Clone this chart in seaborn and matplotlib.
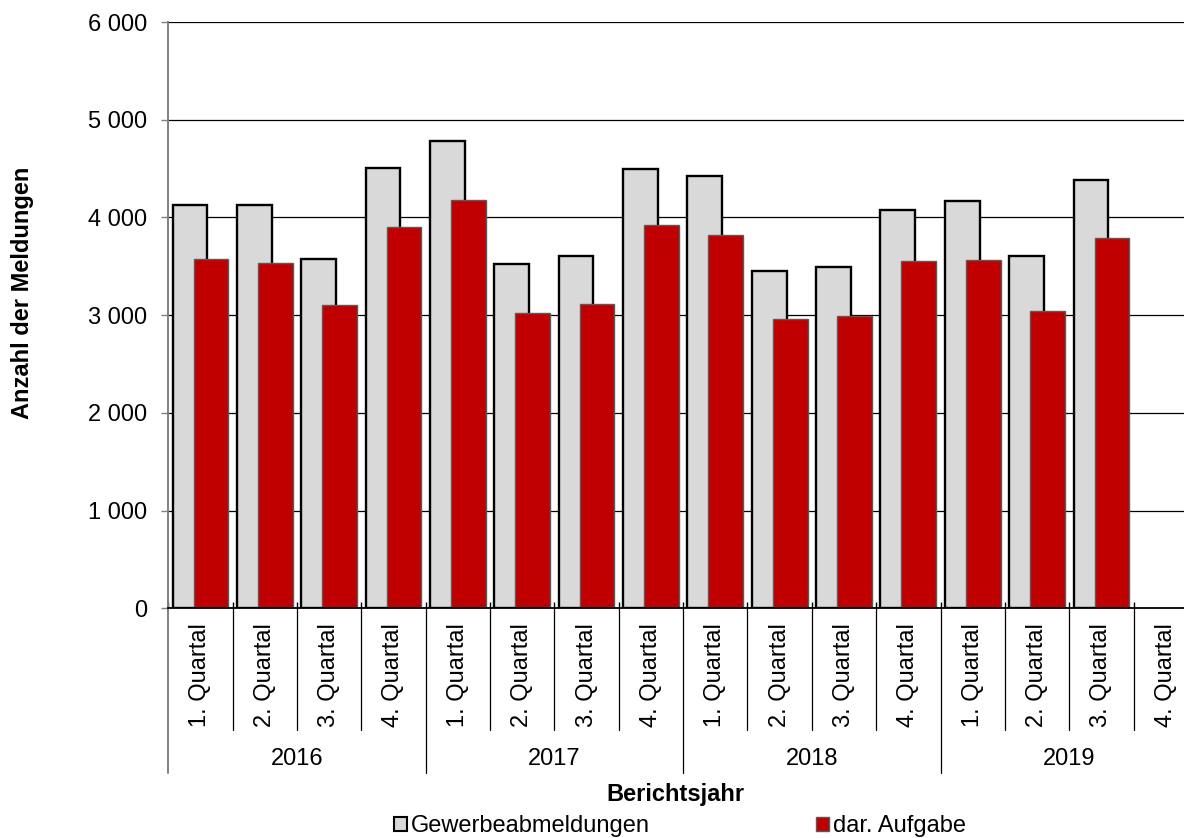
import numpy as np
import pandas as pd
import seaborn as sns
import matplotlib
matplotlib.use('Agg')
from matplotlib import pyplot as plt
from matplotlib import transforms
from matplotlib.patches import Patch
from matplotlib.ticker import FuncFormatter, MultipleLocator

sns.set_style('white')
plt.rcParams['font.family'] = ['Liberation Sans', 'DejaVu Sans']
plt.rcParams['text.color'] = 'black'
plt.rcParams['xtick.color'] = 'black'
plt.rcParams['ytick.color'] = 'black'

# data
years = ['2016', '2017', '2018', '2019']
quarters = ['1. Quartal', '2. Quartal', '3. Quartal', '4. Quartal']
abmeldungen = [4126, 4128, 3570, 4502,
               4785, 3519, 3601, 4495,
               4426, 3457, 3488, 4075,
               4167, 3604, 4382, np.nan]
aufgabe = [3573, 3529, 3102, 3904,
           4177, 3020, 3116, 3921,
           3819, 2959, 2993, 3550,
           3566, 3041, 3785, np.nan]

n = len(abmeldungen)
df = pd.DataFrame({
    'pos': np.arange(n) + 0.5,
    'Gewerbeabmeldungen': abmeldungen,
    'dar. Aufgabe': aufgabe,
})

grey = '#D9D9D9'
red = '#C00000'

fig = plt.figure(figsize=(11.84, 8.38), dpi=100)
ax = fig.add_axes([0.1421, 0.2741, 0.8697, 0.6996])

# overlapping bars: grey shifted left, red shifted right
sns.barplot(x=df['pos'] - 0.163, y=df['Gewerbeabmeldungen'], native_scale=True,
            orient='x', width=0.54, color=grey, saturation=1,
            edgecolor='black', linewidth=1.7, errorbar=None, ax=ax)
sns.barplot(x=df['pos'] + 0.163, y=df['dar. Aufgabe'], native_scale=True,
            orient='x', width=0.54, color=red, saturation=1,
            edgecolor='#5a5a5a', linewidth=1.0, errorbar=None, ax=ax)

ax.set_xlim(0, n)
ax.set_ylim(0, 6000)
ax.yaxis.set_major_locator(MultipleLocator(1000))
ax.yaxis.set_major_formatter(FuncFormatter(lambda v, p: f"{int(v):,}".replace(',', ' ')))
ax.grid(axis='y', color='black', linewidth=0.9)
ax.set_axisbelow(True)

for s in ['top', 'right']:
    ax.spines[s].set_visible(False)
ax.spines['left'].set_color('#808080')
ax.spines['left'].set_linewidth(1.4)
ax.spines['bottom'].set_color('black')
ax.spines['bottom'].set_linewidth(1.3)

ax.tick_params(axis='y', direction='out', length=5, width=1, color='#808080',
               pad=10, labelsize=17, left=True, labelcolor='black')
ax.set_xticks(np.arange(n + 1))
ax.set_xticklabels([])
ax.tick_params(axis='x', direction='in', length=4.5, width=1, color='black', bottom=True)
ax.set_xlabel('')
ax.set_ylabel('')

# category axis: quarters and years
trans = transforms.blended_transform_factory(ax.transData, ax.transAxes)
for i in range(n + 1):
    depth = -0.2808 if i % 4 == 0 else -0.2074
    col = '#808080' if i == 0 else 'black'
    ax.plot([i, i], [0, depth], transform=trans, clip_on=False,
            color=col, linewidth=1.4 if i == 0 else 0.9)
for i in range(n):
    ax.text(i + 0.5, -0.1138, quarters[i % 4], transform=trans, rotation=90,
            ha='center', va='center', fontsize=17, color='black')
for j, yr in enumerate(years):
    ax.text(j * 4 + 2, -0.2562, yr, transform=trans, ha='center', va='center',
            fontsize=17, color='black')

fig.text(0.5706, 0.0525, 'Berichtsjahr', ha='center', va='center',
         fontsize=17, fontweight='bold', color='black')
fig.text(0.0186, 1 - 293 / 838, 'Anzahl der Meldungen', ha='center', va='center',
         rotation=90, fontsize=17, fontweight='bold', color='black')

handles = [Patch(facecolor=grey, edgecolor='black', linewidth=1.5),
           Patch(facecolor=red, edgecolor='#5a5a5a', linewidth=1.0)]
fig.legend(handles, ['Gewerbeabmeldungen', 'dar. Aufgabe'], loc='center',
           bbox_to_anchor=(680 / 1184, 1 - 826 / 838), ncol=2, frameon=False,
           fontsize=17, handlelength=0.55, handleheight=0.55, handletextpad=0.2,
           columnspacing=7.0, borderpad=0, borderaxespad=0)

plt.savefig('out.png', dpi=100)
